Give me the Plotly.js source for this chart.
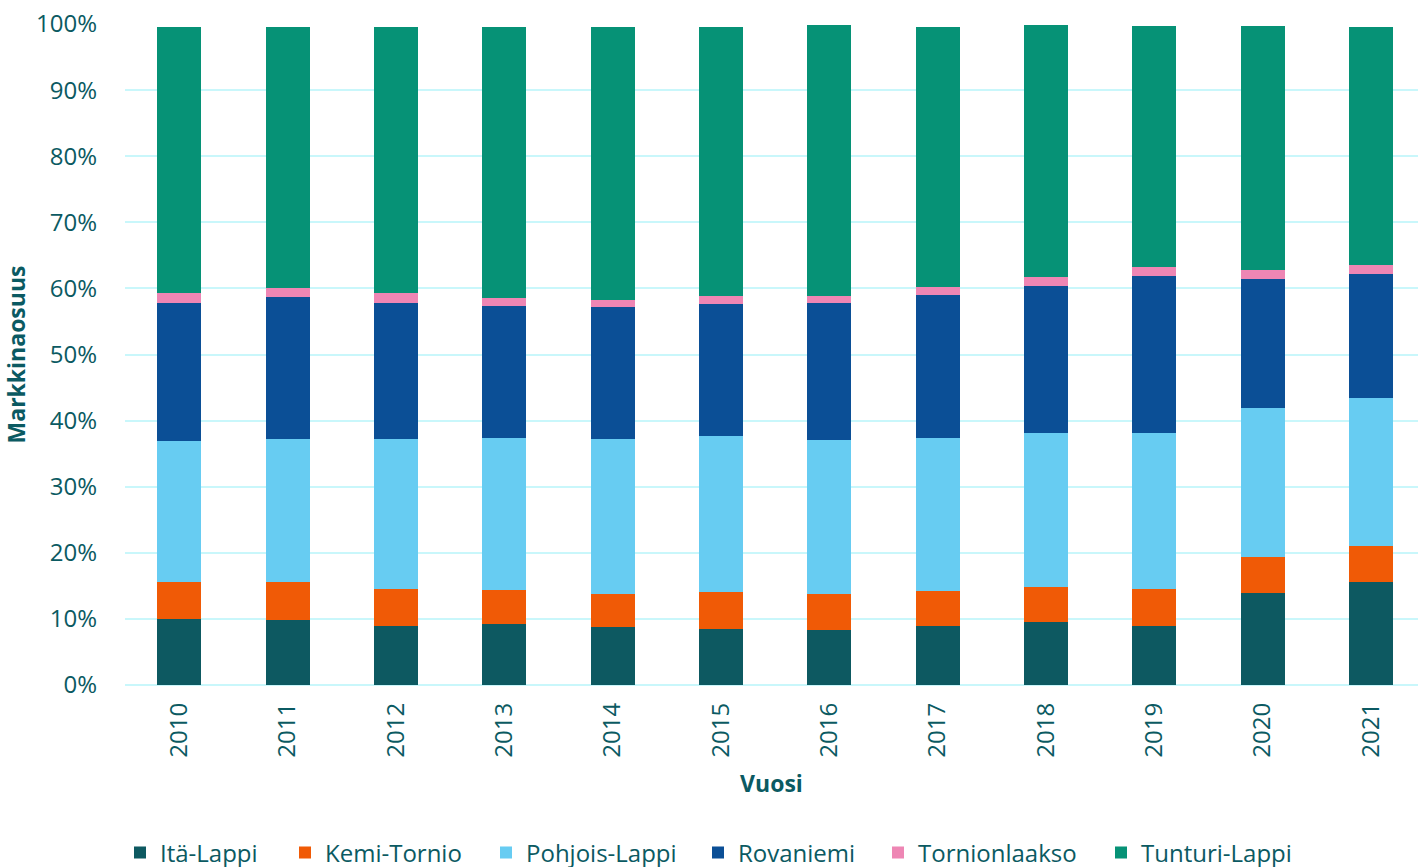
<!DOCTYPE html>
<html>
<head>
<meta charset="utf-8">
<script src="https://cdn.plot.ly/plotly-3.0.1.min.js"></script>
<style>html,body{margin:0;padding:0;background:#fff;}#chart{width:1418px;height:867px;}</style>
</head>
<body>
<div id="chart"></div>
<script>
const years = ['2010','2011','2012','2013','2014','2015','2016','2017','2018','2019','2020','2021'];
const itaLappi      = [10.0, 9.8, 9.0, 9.2, 8.7, 8.4, 8.3, 8.9, 9.6, 9.0, 13.9, 15.6];
const kemiTornio    = [5.6, 5.8, 5.5, 5.1, 5.0, 5.6, 5.4, 5.3, 5.3, 5.5, 5.4, 5.4];
const pohjoisLappi  = [21.3, 21.6, 22.7, 23.0, 23.5, 23.6, 23.3, 23.2, 23.2, 23.6, 22.6, 22.4];
const rovaniemi     = [20.9, 21.5, 20.6, 20.0, 20.0, 20.0, 20.8, 21.6, 22.3, 23.8, 19.5, 18.8];
const tornionlaakso = [1.5, 1.4, 1.5, 1.2, 1.1, 1.2, 1.1, 1.2, 1.4, 1.4, 1.4, 1.4];
const tunturiLappi  = [40.3, 39.5, 40.3, 41.1, 41.3, 40.8, 41.0, 39.4, 38.1, 36.4, 36.9, 36.0];
const seriesNames = ['Itä-Lappi','Kemi-Tornio','Pohjois-Lappi','Rovaniemi','Tornionlaakso','Tunturi-Lappi'];
const yTicks = [0,10,20,30,40,50,60,70,80,90,100];
const yTickLabels = yTicks.map(v => v + '%');

const seriesValues = [itaLappi, kemiTornio, pohjoisLappi, rovaniemi, tornionlaakso, tunturiLappi];
const seriesColors = ['#0d5961', '#f05a06', '#67ccf2', '#0b4f96', '#ee86b4', '#069276'];
const legendCenters = [140, 305, 506, 718, 898, 1121];
const txtColor = '#0b5a62';
const W = 1418, H = 867;

const traces = seriesNames.map((name, i) => ({
  type: 'bar', name: name, x: years, y: seriesValues[i],
  marker: {color: seriesColors[i], line: {width: 0}},
  width: 0.406,
  legend: i === 0 ? 'legend' : 'legend' + (i + 1)
}));

const layout = {
  width: W, height: H,
  barmode: 'stack',
  margin: {l: 125, r: 0, t: 24, b: 182},
  paper_bgcolor: '#ffffff', plot_bgcolor: '#ffffff',
  font: {family: '"Open Sans", sans-serif', size: 24, color: txtColor},
  xaxis: {
    type: 'category',
    range: [-0.5, 11.435],
    tickangle: -90, automargin: false,
    showgrid: false, zeroline: false, showline: false,
    ticks: '', ticklabelstandoff: 12,
    tickfont: {size: 24, color: txtColor},
    title: {text: '<b>Vuosi</b>', font: {size: 23, color: txtColor}, standoff: 19}
  },
  yaxis: {
    range: [0, 100], automargin: false,
    tickvals: yTicks, ticktext: yTickLabels,
    showgrid: true, gridcolor: '#c9f7fb', gridwidth: 2,
    zeroline: true, zerolinecolor: '#c9f7fb', zerolinewidth: 2,
    showline: false, ticks: '', ticklabelstandoff: 27,
    tickfont: {size: 24, color: txtColor},
    title: {text: '<b>Markkinaosuus</b>', font: {size: 23, color: txtColor}, standoff: 6}
  },
  showlegend: true
};
legendCenters.forEach((cx, i) => {
  const key = i === 0 ? 'legend' : 'legend' + (i + 1);
  layout[key] = {
    xref: 'container', yref: 'container',
    x: (cx - 20) / W, xanchor: 'left',
    y: (H - 853) / H, yanchor: 'middle',
    orientation: 'h', bgcolor: 'rgba(0,0,0,0)',
    font: {size: 24, color: txtColor}, itemwidth: 30
  };
});
Plotly.newPlot('chart', traces, layout, {displayModeBar: false, staticPlot: true});
</script>
</body>
</html>
